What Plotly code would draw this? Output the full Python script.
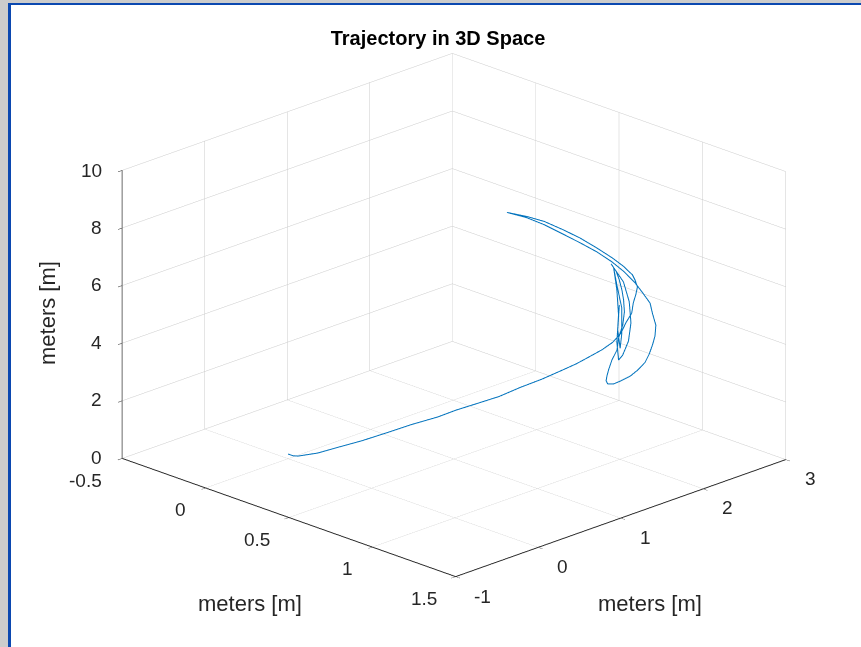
import plotly.graph_objects as go

# Trajectory samples (metres)
# launch and climb to the turning point
x_launch = [-0.04, -0.01, 0.02, 0.09, 0.15, 0.24, 0.32, 0.41, 0.51, 0.58, 0.66, 0.74, 0.80, 0.88, 0.95, 1.00, 1.04,
            1.08, 1.11, 1.13, 1.13, 1.14, 1.13, 1.13, 1.13, 1.11, 1.11, 1.07, 1.03, 0.97, 0.91, 0.84, 0.76, 0.69, 0.62]
y_launch = [0.08, 0.08, 0.08, 0.18, 0.29, 0.41, 0.55, 0.67, 0.78, 0.86, 0.95, 1.06, 1.19, 1.30, 1.41, 1.47, 1.55,
            1.62, 1.69, 1.75, 1.81, 1.86, 1.90, 1.93, 1.95, 1.96, 1.93, 1.90, 1.85, 1.78, 1.70, 1.64, 1.57, 1.50, 1.40]
z_launch = [0.0, 0.0, 0.05, 0.2, 0.4, 0.7, 1.0, 1.35, 1.7, 2.0, 2.3, 2.6, 2.9, 3.25, 3.6, 3.85, 4.1,
            4.35, 4.6, 4.9, 5.2, 5.5, 5.8, 6.05, 6.3, 6.5, 6.7, 6.95, 7.2, 7.5, 7.8, 8.0, 8.2, 8.3, 8.4]
# return sweep and the outer loop
x_loop = [0.72, 0.82, 0.91, 1.00, 1.08, 1.15, 1.20, 1.24, 1.26, 1.28, 1.28, 1.29, 1.28, 1.27, 1.26, 1.25, 1.23,
          1.21, 1.18, 1.16, 1.14, 1.14, 1.16, 1.18, 1.20, 1.23, 1.23, 1.24, 1.24, 1.22, 1.20, 1.17, 1.15, 1.12]
y_loop = [1.43, 1.45, 1.48, 1.52, 1.56, 1.60, 1.65, 1.70, 1.75, 1.80, 1.83, 1.85, 1.86, 1.85, 1.83, 1.80, 1.75,
          1.70, 1.65, 1.60, 1.57, 1.55, 1.52, 1.50, 1.50, 1.50, 1.52, 1.55, 1.57, 1.60, 1.62, 1.65, 1.65, 1.65]
z_loop = [8.40, 8.33, 8.18, 8.00, 7.81, 7.57, 7.27, 6.92, 6.57, 6.20, 5.80, 5.40, 5.00, 4.68, 4.36, 4.08, 3.82,
          3.62, 3.45, 3.35, 3.34, 3.47, 3.71, 3.99, 4.37, 4.77, 5.18, 5.61, 6.05, 6.40, 6.68, 6.93, 7.20, 7.39]
# inner loops
x_inner = [1.17, 1.18, 1.19, 1.20, 1.19, 1.19, 1.18, 1.18, 1.16, 1.14, 1.15, 1.17, 1.17, 1.17, 1.16, 1.17]
y_inner = [1.70, 1.75, 1.75, 1.70, 1.65, 1.60, 1.60, 1.62, 1.64, 1.64, 1.66, 1.68, 1.68, 1.66, 1.65, 1.65]
z_inner = [6.81, 6.09, 5.38, 4.82, 4.36, 4.24, 4.84, 5.77, 6.58, 7.33, 6.71, 5.92, 5.05, 4.55, 5.18, 6.06]

x_m = x_launch + x_loop + x_inner
y_m = y_launch + y_loop + y_inner
z_m = z_launch + z_loop + z_inner

x_ticks = [-0.5, 0, 0.5, 1, 1.5]
x_ticktext = ["-0.5", "0", "0.5", "1", "1.5"]
y_ticks = [-1, 0, 1, 2, 3]
y_ticktext = ["-1", "0", "1", "2", "3"]
z_ticks = [0, 2, 4, 6, 8, 10]
z_ticktext = ["0", "2", "4", "6", "8", "10"]

title_text = "Trajectory in 3D Space"
axis_label = "meters [m]"

W, H = 861, 647
FONT = "Liberation Sans, Arial, Helvetica, sans-serif"
AX = "#262626"
GRID = "#cbcbcb"

# screen corners of the plot box (pixels) used to place the flat 2D labels
O = (121, 459)     # (xmin, ymin, zmin)
NX = (456, 577)    # (xmax, ymin, zmin)
NY = (787, 459)    # (xmax, ymax, zmin)
ZT = 172           # zmax above O


def px(x, y):
    return x / W, 1 - y / H


fig = go.Figure(go.Scatter3d(
    x=x_m, y=y_m, z=z_m, mode="lines",
    line=dict(color="#0072BD", width=2),
    showlegend=False, hoverinfo="skip"))


def axis(rng, tv):
    return dict(range=rng, tickvals=tv, autorange=False,
                showgrid=True, gridcolor=GRID, gridwidth=1,
                showline=True, linecolor=AX, linewidth=2,
                ticks="outside", ticklen=6, tickcolor=AX, tickwidth=1,
                showticklabels=False,
                showbackground=False, zeroline=False, showspikes=False,
                title=dict(text=""))


annotations = []
TF = dict(family=FONT, size=19, color=AX)
for v, t in zip(x_ticks, x_ticktext):
    f = (v - x_ticks[0]) / (x_ticks[-1] - x_ticks[0])
    sx = O[0] + f * (NX[0] - O[0])
    sy = O[1] + f * (NX[1] - O[1])
    ax_, ay_ = px(sx - 17, sy + 21)
    annotations.append(dict(text=t, x=ax_, y=ay_, xref="paper", yref="paper",
                            xanchor="right", yanchor="middle", showarrow=False, font=TF))
for v, t in zip(y_ticks, y_ticktext):
    f = (v - y_ticks[0]) / (y_ticks[-1] - y_ticks[0])
    sx = NX[0] + f * (NY[0] - NX[0])
    sy = NX[1] + f * (NY[1] - NX[1])
    ax_, ay_ = px(sx + 16, sy + 19)
    annotations.append(dict(text=t, x=ax_, y=ay_, xref="paper", yref="paper",
                            xanchor="left", yanchor="middle", showarrow=False, font=TF))
for v, t in zip(z_ticks, z_ticktext):
    f = (v - z_ticks[0]) / (z_ticks[-1] - z_ticks[0])
    sy = O[1] + f * (ZT - O[1])
    ax_, ay_ = px(O[0] - 17, sy - 2)
    annotations.append(dict(text=t, x=ax_, y=ay_, xref="paper", yref="paper",
                            xanchor="right", yanchor="middle", showarrow=False, font=TF))

LF = dict(family=FONT, size=22, color=AX)
for (lx, ly, ang) in [(250, 603, 0), (650, 603, 0), (47, 313, -90)]:
    ax_, ay_ = px(lx, ly)
    annotations.append(dict(text=axis_label, x=ax_, y=ay_, xref="paper", yref="paper",
                            xanchor="center", yanchor="middle", textangle=ang,
                            showarrow=False, font=LF))

fig.update_layout(
    width=W, height=H,
    margin=dict(l=0, r=0, t=0, b=0),
    paper_bgcolor="white",
    title=dict(text="<b>" + title_text + "</b>", x=438 / W, xanchor="center",
               y=1 - 38 / H, yanchor="middle", yref="container",
               font=dict(family=FONT, size=20, color="black")),
    scene=dict(
        domain=dict(x=[0.0546, 1.0], y=[0.0263, 1.0]),
        xaxis=axis([-0.5, 1.5], x_ticks),
        yaxis=axis([-1, 3], y_ticks),
        zaxis=axis([0, 10], z_ticks),
        aspectmode="manual",
        aspectratio=dict(x=1.497, y=1.482, z=0.978),
        camera=dict(projection=dict(type="orthographic"),
                    eye=dict(x=0.872, y=-0.872, z=0.4676),
                    up=dict(x=0, y=0, z=1),
                    center=dict(x=0, y=0, z=0)),
        bgcolor="white",
    ),
    annotations=annotations,
    shapes=[
        dict(type="rect", xref="paper", yref="paper", x0=0, x1=8 / W, y0=0, y1=1,
             fillcolor="#cccccc", line=dict(width=0), layer="above"),
        dict(type="rect", xref="paper", yref="paper", x0=0, x1=1, y0=1 - 3 / H, y1=1,
             fillcolor="#cccccc", line=dict(width=0), layer="above"),
        dict(type="rect", xref="paper", yref="paper", x0=8 / W, x1=11 / W, y0=0, y1=1 - 3 / H,
             fillcolor="#0b48b0", line=dict(width=0), layer="above"),
        dict(type="rect", xref="paper", yref="paper", x0=8 / W, x1=1, y0=1 - 5 / H, y1=1 - 3 / H,
             fillcolor="#0b48b0", line=dict(width=0), layer="above"),
    ],
)

fig.write_html("out.html", config=dict(displayModeBar=False),
               post_script="document.body.style.margin='0px';")
